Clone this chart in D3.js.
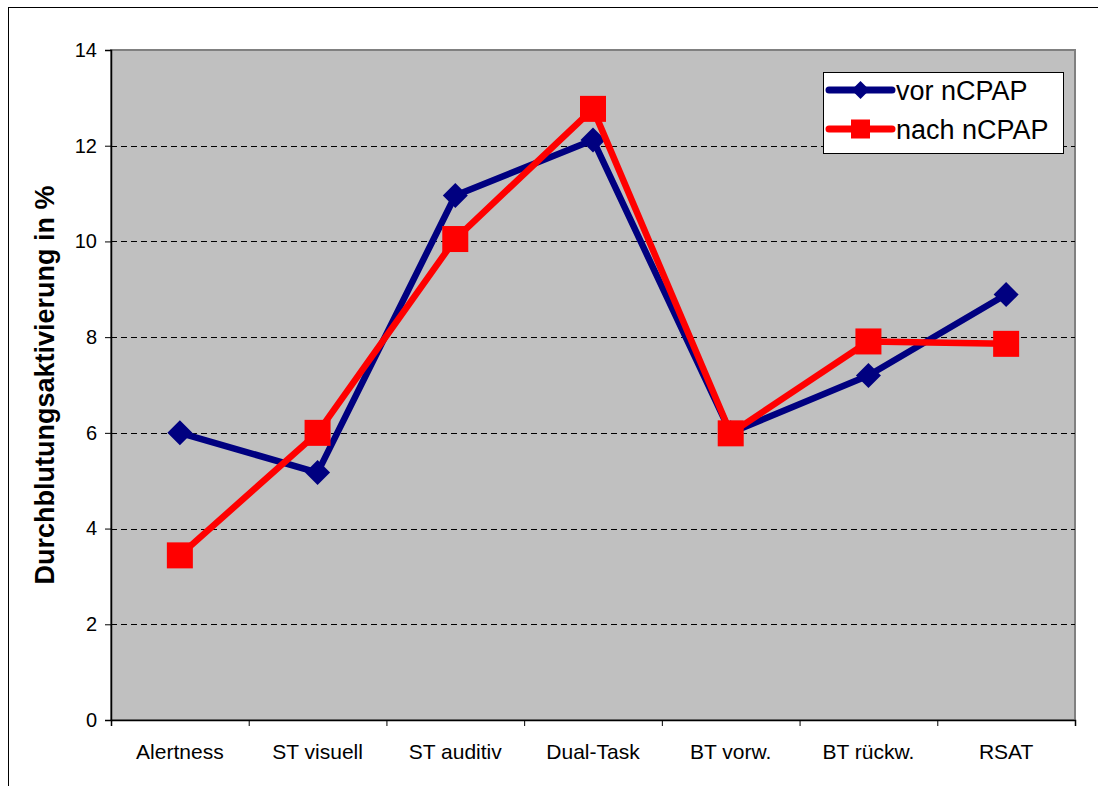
<!DOCTYPE html>
<html>
<head>
<meta charset="utf-8">
<script src="https://cdn.jsdelivr.net/npm/d3@7"></script>
<style>
  html, body { margin: 0; padding: 0; background: #fff; }
  svg { display: block; font-family: "Liberation Sans", Arial, sans-serif; }
</style>
</head>
<body>
<svg id="chart" width="1098" height="786"></svg>
<script>
// Categories and series values
const categories = ["Alertness", "ST visuell", "ST auditiv", "Dual-Task", "BT vorw.", "BT rückw.", "RSAT"];
const vorValues  = [6.0, 5.17, 10.96, 12.12, 6.0, 7.2, 8.89];
const nachValues = [3.44, 6.0, 10.05, 12.77, 5.99, 7.91, 7.86];
const yTicks = [0, 2, 4, 6, 8, 10, 12, 14];
const seriesNames = ["vor nCPAP", "nach nCPAP"];
const yTitle = "Durchblutungsaktivierung in %";

const svg = d3.select("#chart");

// Outer chart frame
svg.append("rect")
  .attr("x", 8.5).attr("y", 7.5)
  .attr("width", 1200).attr("height", 900)
  .attr("fill", "#fff").attr("stroke", "#000").attr("stroke-width", 1);

const plot = { left: 111, right: 1075, top: 50, bottom: 720 };

const x = d3.scaleBand().domain(categories).range([plot.left, plot.right]).padding(0);
const xEdges = d3.scaleLinear().domain([0, categories.length]).range([plot.left, plot.right]);
const y = d3.scaleLinear().domain([0, 14]).range([plot.bottom, plot.top]);

// Plot area background
svg.append("rect")
  .attr("x", plot.left).attr("y", plot.top)
  .attr("width", plot.right - plot.left).attr("height", plot.bottom - plot.top)
  .attr("fill", "#c0c0c0").attr("stroke", "#808080").attr("stroke-width", 2);

// Dashed horizontal gridlines
svg.append("g").selectAll("line")
  .data(yTicks.filter(t => t > 0 && t < 14))
  .join("line")
  .attr("x1", plot.left).attr("x2", plot.right)
  .attr("y1", d => Math.round(y(d)) + 0.5).attr("y2", d => Math.round(y(d)) + 0.5)
  .attr("stroke", "#000").attr("stroke-width", 1)
  .attr("stroke-dasharray", "6,4");

// Y axis
const yAxis = svg.append("g")
  .attr("transform", `translate(${plot.left},0)`)
  .call(d3.axisLeft(y).tickValues(yTicks).tickSize(6).tickPadding(8).tickFormat(d3.format("d")));
yAxis.select(".domain").attr("stroke", "#000").attr("stroke-width", 1.5);
yAxis.selectAll(".tick line").attr("stroke", "#000");
yAxis.selectAll("text").attr("font-size", 20).attr("fill", "#000")
  .attr("font-family", "'Liberation Sans', Arial, sans-serif");

// X axis: boundary ticks
const xTickAxis = svg.append("g")
  .attr("transform", `translate(0,${plot.bottom})`)
  .call(d3.axisBottom(xEdges).tickValues(d3.range(categories.length + 1)).tickSize(6).tickFormat(""));
xTickAxis.select(".domain").attr("stroke", "#000").attr("stroke-width", 1.5);
xTickAxis.selectAll(".tick line").attr("stroke", "#000");

// X axis: category labels
const xLabelAxis = svg.append("g")
  .attr("transform", `translate(0,${plot.bottom})`)
  .call(d3.axisBottom(x).tickSize(0).tickPadding(0));
xLabelAxis.select(".domain").remove();
xLabelAxis.selectAll("text")
  .attr("y", 39).attr("dy", 0)
  .attr("font-size", 21).attr("fill", "#000")
  .attr("font-family", "'Liberation Sans', Arial, sans-serif");

// Y axis title
svg.append("text")
  .attr("transform", `translate(54,${(plot.top + plot.bottom) / 2}) rotate(-90)`)
  .attr("text-anchor", "middle")
  .attr("font-size", 27).attr("font-weight", "bold").attr("fill", "#000")
  .text(yTitle);

const cx = c => x(c) + x.bandwidth() / 2;
const line = d3.line().x(d => cx(d.c)).y(d => y(d.v));

const series = [
  { name: seriesNames[0], values: vorValues, color: "#000080", marker: "diamond" },
  { name: seriesNames[1], values: nachValues, color: "#ff0000", marker: "square" }
];

function drawMarker(g, type, color, px, py, size) {
  if (type === "diamond") {
    const h = size / 2;
    g.append("path")
      .attr("d", `M${px},${py - h}L${px + h},${py}L${px},${py + h}L${px - h},${py}Z`)
      .attr("fill", color);
  } else {
    g.append("rect")
      .attr("x", px - size / 2).attr("y", py - size / 2)
      .attr("width", size).attr("height", size)
      .attr("fill", color);
  }
}

series.forEach(s => {
  const pts = categories.map((c, i) => ({ c, v: s.values[i] }));
  const g = svg.append("g");
  g.append("path")
    .datum(pts)
    .attr("d", line)
    .attr("fill", "none")
    .attr("stroke", s.color)
    .attr("stroke-width", 6.5)
    .attr("stroke-linejoin", "round");
  pts.forEach(p => drawMarker(g, s.marker, s.color, cx(p.c), y(p.v), s.marker === "diamond" ? 25 : 26));
});

// Legend
const legend = svg.append("g");
legend.append("rect")
  .attr("x", 823.5).attr("y", 72.5).attr("width", 240).attr("height", 81)
  .attr("fill", "#fff").attr("stroke", "#000").attr("stroke-width", 1);
series.forEach((s, i) => {
  const ly = 90 + i * 39;
  legend.append("line")
    .attr("x1", 829).attr("x2", 892).attr("y1", ly).attr("y2", ly)
    .attr("stroke", s.color).attr("stroke-width", 7).attr("stroke-linecap", "round");
  drawMarker(legend, s.marker, s.color, 860.5, ly, s.marker === "diamond" ? 18 : 19);
  legend.append("text")
    .attr("x", 896).attr("y", ly + 10)
    .attr("font-size", 27).attr("fill", "#000")
    .text(s.name);
});
</script>
</body>
</html>
